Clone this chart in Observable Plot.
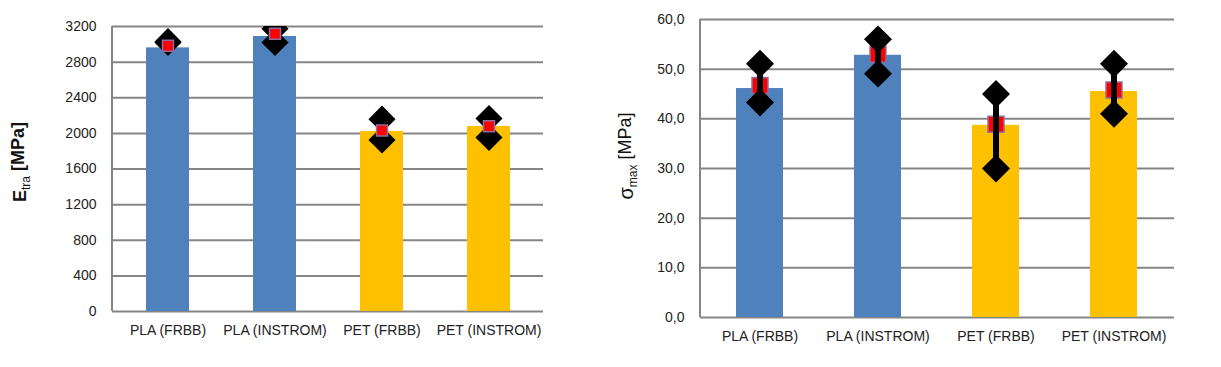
<!DOCTYPE html>
<html><head><meta charset="utf-8">
<script src="https://cdn.jsdelivr.net/npm/d3@7"></script>
<script src="https://cdn.jsdelivr.net/npm/@observablehq/plot@0.6"></script>
<style>
body{margin:0;background:#fff;}
#wrap{position:relative;width:1221px;height:367px;overflow:hidden;font-family:"Liberation Sans",Arial,sans-serif;}
#left{position:absolute;left:0;top:0;}
#right{position:absolute;left:600px;top:0;}
</style></head><body><div id="wrap"><div id="left"></div><div id="right"></div></div>
<script>
const categories = ["PLA (FRBB)", "PLA (INSTROM)", "PET (FRBB)", "PET (INSTROM)"];
const barColors = ["#4F81BD", "#4F81BD", "#FFC000", "#FFC000"];

// Left panel: E_tra [MPa]
const eBar  = [2960, 3088, 2021, 2078];
const eMark = [2985, 3118, 2032, 2080];
const eMax  = [3030, 3175, 2160, 2167];
const eMin  = [3020, 3020, 1926, 1954];
const eTicks = [0, 400, 800, 1200, 1600, 2000, 2400, 2800, 3200];

// Right panel: sigma_max [MPa]
const sBar  = [46.1, 52.8, 38.7, 45.5];
const sMark = [46.7, 53.0, 38.9, 45.8];
const sMax  = [51.1, 56.0, 45.0, 51.1];
const sMin  = [43.3, 49.1, 30.0, 41.0];
const sTicks = [0, 10, 20, 30, 40, 50, 60];

function panel(o) {
  const rows = categories.map((c, i) => ({cat: c, bar: o.bars[i], mark: o.marks[i], max: o.maxs[i], min: o.mins[i], color: barColors[i]}));
  const square = Plot.dot(rows, {x: "cat", y: "mark", symbol: "square", r: o.sqR, fill: "#FF0000", stroke: "#8E6FA0", strokeWidth: 1.5});
  const line = Plot.ruleX(rows, {x: "cat", y1: "min", y2: "max", stroke: "black", strokeWidth: o.lineW});
  const diaMax = Plot.dot(rows, {x: "cat", y: "max", symbol: "diamond2", r: o.diaR, fill: "black", clip: true});
  const diaMin = Plot.dot(rows, {x: "cat", y: "min", symbol: "diamond2", r: o.diaR, fill: "black", clip: true});
  const top = o.squareOnTop ? [line, diaMax, diaMin, square] : [square, line, diaMax, diaMin];
  const chart = Plot.plot({
    width: o.width, height: o.height,
    marginLeft: o.mL, marginRight: o.mR, marginTop: o.mT, marginBottom: o.mB,
    style: {fontFamily: "Liberation Sans, Arial, sans-serif", fontSize: "14px", color: "#222", background: "white"},
    x: {domain: categories, paddingInner: 0.6, paddingOuter: 0.3, label: null},
    y: {domain: o.domainY, label: null},
    color: {type: "identity"},
    marks: [
      Plot.ruleY(o.ticks, {stroke: "#868686", strokeWidth: 2}),
      Plot.barY(rows, {x: "cat", y: "bar", fill: "color"}),
      ...top,
      Plot.axisY(o.ticks, {tickSize: 0, tickPadding: 16, tickFormat: o.fmt, fontSize: 14, fill: "#222", label: null}),
      Plot.axisX({tickSize: 0, tickPadding: 14, fontSize: 14, fill: "#222", label: null})
    ]
  });
  const sx = chart.scale("x"), sy = chart.scale("y");
  const svg = d3.select(chart);
  svg.append("line")
    .attr("x1", sx.range[0]).attr("x2", sx.range[0])
    .attr("y1", sy.range[0]).attr("y2", sy.range[1])
    .attr("stroke", "#868686").attr("stroke-width", 2);
  const t = svg.append("text")
    .attr("transform", `translate(${o.labelX},${o.labelY}) rotate(-90)`)
    .attr("text-anchor", "middle")
    .attr("fill", "#111")
    .style("font-family", "Liberation Sans, Arial, sans-serif");
  t.append("tspan").text(o.labelMain).attr("font-size", o.labelMainSize).attr("font-weight", o.labelWeight);
  t.append("tspan").text(o.labelSub).attr("font-size", o.labelSubSize).attr("dy", "0.35em").attr("font-weight", "normal");
  t.append("tspan").text(" [MPa]").attr("font-size", o.labelUnitSize).attr("dy", "-0.35em").attr("font-weight", o.labelWeight);
  return chart;
}

document.getElementById("left").appendChild(panel({
  width: 600, height: 367, mL: 112, mR: 57, mT: 26, mB: 56,
  domainY: [0, 3200], ticks: eTicks, fmt: d => String(d),
  bars: eBar, marks: eMark, maxs: eMax, mins: eMin,
  sqR: 6.2, diaR: 12.2, lineW: 4, squareOnTop: true,
  labelX: 26, labelY: 162, labelMain: "E", labelSub: "tra",
  labelMainSize: 18, labelSubSize: 12, labelUnitSize: 18, labelWeight: "bold"
}));

document.getElementById("right").appendChild(panel({
  width: 621, height: 367, mL: 100, mR: 47, mT: 19, mB: 50,
  domainY: [0, 60], ticks: sTicks, fmt: d => d.toFixed(1).replace(".", ","),
  bars: sBar, marks: sMark, maxs: sMax, mins: sMin,
  sqR: 9, diaR: 12.6, lineW: 6, squareOnTop: false,
  labelX: 33, labelY: 156, labelMain: "σ", labelSub: "max",
  labelMainSize: 20, labelSubSize: 12, labelUnitSize: 18, labelWeight: "normal"
}));
</script></body></html>
